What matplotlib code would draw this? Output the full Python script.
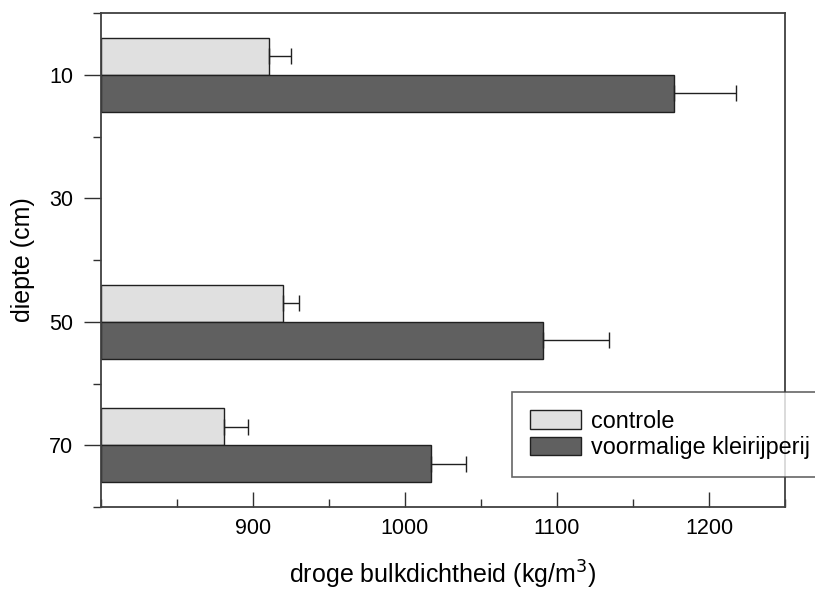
import matplotlib
matplotlib.use("Agg")
import matplotlib.pyplot as plt
import numpy as np
from matplotlib.ticker import MultipleLocator

plt.rcParams['font.family'] = ['Liberation Sans', 'DejaVu Sans']

depths = [10, 50, 70]
controle = [910.5, 919.5, 881]
controle_err = [14.5, 11, 16]
kleirijperij = [1177, 1091, 1017]
kleirijperij_err = [41, 43, 23]
series_labels = ['controle', 'voormalige kleirijperij']
depth_ticks = [10, 30, 50, 70]
x_ticks = [900, 1000, 1100, 1200]

fig = plt.figure(figsize=(8.15, 5.92), dpi=100)
ax = fig.add_axes([101/815, 1-507/592, (785-101)/815, (507-13)/592])

base = 800
d = np.array(depths, dtype=float)
h = 6
ax.barh(d - h/2, np.array(controle) - base, height=h, left=base,
        color='#e0e0e0', edgecolor='#202020', linewidth=1.0,
        xerr=[np.zeros(3), controle_err], error_kw=dict(ecolor='#202020', elinewidth=1.0, capsize=6, capthick=1.0),
        label=series_labels[0])
ax.barh(d + h/2, np.array(kleirijperij) - base, height=h, left=base,
        color='#606060', edgecolor='#202020', linewidth=1.0,
        xerr=[np.zeros(3), kleirijperij_err], error_kw=dict(ecolor='#202020', elinewidth=1.0, capsize=6, capthick=1.0),
        label=series_labels[1])

ax.set_xlim(800, 1250)
ax.set_ylim(80, 0)
ax.set_xticks(x_ticks)
ax.xaxis.set_minor_locator(MultipleLocator(50))
ax.set_yticks(depth_ticks)
ax.yaxis.set_minor_locator(MultipleLocator(20))
ax.tick_params(axis='x', which='major', direction='in', length=11, width=1.0, labelsize=15.5, pad=8, colors='#303030', labelcolor='black')
ax.tick_params(axis='x', which='minor', direction='in', length=6, width=1.0, colors='#303030')
ax.tick_params(axis='y', which='major', direction='out', length=12, width=1.0, labelsize=15.5, pad=8, colors='#303030', labelcolor='black')
ax.tick_params(axis='y', which='minor', direction='out', length=6, width=1.0, colors='#303030')
for s in ax.spines.values():
    s.set_linewidth(1.3)
    s.set_color('#404040')

ax.set_xlabel('droge bulkdichtheid (kg/m$^3$)', fontsize=18, labelpad=14)
ax.set_ylabel('diepte (cm)', fontsize=18, labelpad=10)

leg = ax.legend(loc='upper left', bbox_to_anchor=(512/815, 1-392/592), bbox_transform=fig.transFigure,
                fontsize=16.8, frameon=True, fancybox=False, edgecolor='#404040',
                handlelength=2.2, handleheight=0.85, handletextpad=0.45, labelspacing=0.15,
                borderpad=0.75, borderaxespad=0)
leg.get_frame().set_linewidth(1.2)

fig.savefig('out.png', dpi=100)
